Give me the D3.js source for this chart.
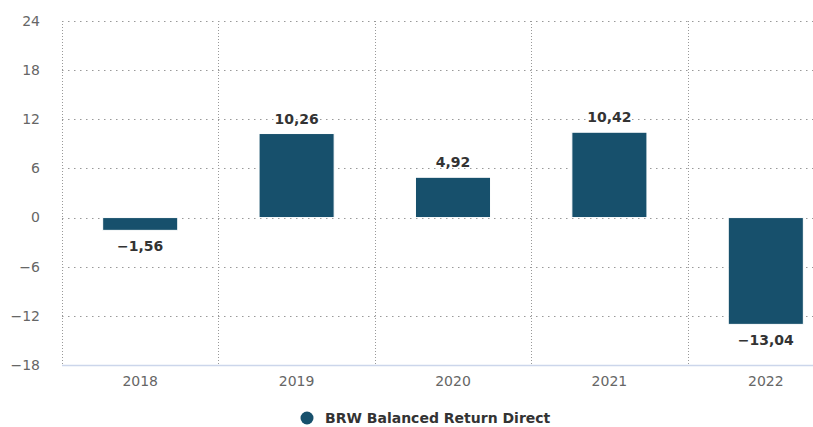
<!DOCTYPE html>
<html>
<head>
<meta charset="utf-8">
<script src="https://cdn.jsdelivr.net/npm/d3@7"></script>
<style>
  body { margin: 0; background: #fff; overflow: hidden; }
  text { font-family: "DejaVu Sans", Verdana, sans-serif; }
</style>
</head>
<body>
<div id="chart"></div>
<script>
const years = ["2018", "2019", "2020", "2021", "2022"];
const returns = [-1.56, 10.26, 4.92, 10.42, -13.04];
const yTicks = [-18, -12, -6, 0, 6, 12, 18, 24];
const seriesName = "BRW Balanced Return Direct";

const W = 813, H = 427;
const margin = {top: 21, left: 62, bottom: 62};
const plotRight = 844; // plot runs past the right edge in the reference

const svg = d3.select("#chart").append("svg")
  .attr("width", W)
  .attr("height", H);

const x = d3.scaleBand()
  .domain(years)
  .range([margin.left, plotRight])
  .paddingInner(0.52)
  .paddingOuter(0.26);

const y = d3.scaleLinear()
  .domain([-18, 24])
  .range([H - margin.bottom, margin.top]);

const fmt = v => d3.format(".2f")(v).replace(".", ",").replace("-", "\u2212");

// horizontal grid
svg.append("g")
  .selectAll("line")
  .data(yTicks)
  .join("line")
    .attr("x1", margin.left)
    .attr("x2", W)
    .attr("y1", d => Math.round(y(d)) + 0.5)
    .attr("y2", d => Math.round(y(d)) + 0.5)
    .attr("stroke", "#999")
    .attr("stroke-width", 1)
    .attr("stroke-dasharray", "1.5,4.5");

// vertical grid at band boundaries
const step = x.step();
const vLines = years.map((d, i) => margin.left + i * step);
svg.append("g")
  .selectAll("line")
  .data(vLines)
  .join("line")
    .attr("x1", d => Math.round(d) + 0.5)
    .attr("x2", d => Math.round(d) + 0.5)
    .attr("y1", y(24))
    .attr("y2", y(-18))
    .attr("stroke", "#999")
    .attr("stroke-width", 1)
    .attr("stroke-dasharray", "1,2");

// bottom axis line
svg.append("line")
  .attr("x1", margin.left)
  .attr("x2", W)
  .attr("y1", Math.round(y(-18)) + 0.5)
  .attr("y2", Math.round(y(-18)) + 0.5)
  .attr("stroke", "#ccd6eb")
  .attr("stroke-width", 1.5);

// y labels
svg.append("g")
  .selectAll("text")
  .data(yTicks)
  .join("text")
    .attr("x", 40)
    .attr("y", d => y(d))
    .attr("dy", "0.35em")
    .attr("text-anchor", "end")
    .attr("fill", "#666")
    .style("font-size", "14px")
    .text(d => String(d).replace("-", "\u2212"));

// x labels
svg.append("g")
  .selectAll("text")
  .data(years)
  .join("text")
    .attr("x", d => x(d) + x.bandwidth() / 2)
    .attr("y", y(-18) + 21)
    .attr("text-anchor", "middle")
    .attr("fill", "#666")
    .style("font-size", "14px")
    .text(d => d);

// bars
const data = years.map((d, i) => ({year: d, value: returns[i]}));
svg.append("g")
  .selectAll("rect")
  .data(data)
  .join("rect")
    .attr("x", d => x(d.year))
    .attr("y", d => y(Math.max(0, d.value)))
    .attr("width", x.bandwidth())
    .attr("height", d => Math.abs(y(d.value) - y(0)))
    .attr("fill", "#17506c")
    .attr("stroke", "#fff")
    .attr("stroke-width", 1);

// data labels
svg.append("g")
  .selectAll("text")
  .data(data)
  .join("text")
    .attr("x", d => x(d.year) + x.bandwidth() / 2)
    .attr("y", d => d.value >= 0 ? y(d.value) - 10 : y(d.value) + 21)
    .attr("text-anchor", "middle")
    .attr("fill", "#333")
    .attr("stroke", "#fff")
    .attr("stroke-width", 2)
    .attr("paint-order", "stroke")
    .style("font-size", "14px")
    .style("font-weight", "bold")
    .text(d => fmt(d.value));

// legend
const legend = svg.append("g")
  .attr("transform", `translate(307, 418)`);
legend.append("circle")
  .attr("r", 6.5)
  .attr("fill", "#17506c");
legend.append("text")
  .attr("x", 18)
  .attr("dy", "0.35em")
  .attr("fill", "#333")
  .style("font-size", "14px")
  .style("font-weight", "bold")
  .text(seriesName);
</script>
</body>
</html>
